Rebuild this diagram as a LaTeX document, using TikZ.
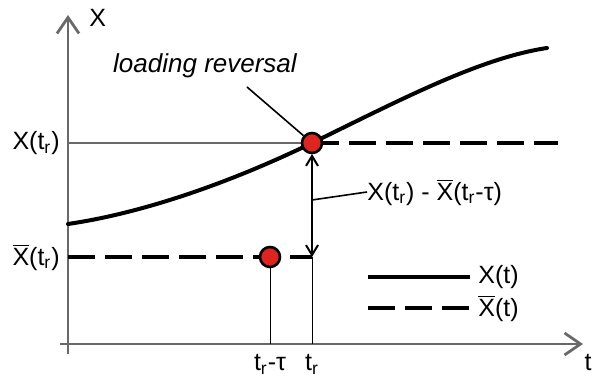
\documentclass[tikz,border=0pt]{standalone}
\usepackage{fontspec}
\setmainfont{Liberation Sans}
\usetikzlibrary{arrows.meta}
\definecolor{axisgray}{RGB}{105,105,105}
\definecolor{dotred}{RGB}{221,36,30}
\newcommand{\tr}{t\textsubscript{r}}
\newcommand{\Xbar}{$\overline{\mbox{X}}$}

\begin{document}
\begin{tikzpicture}[x=0.5pt, y=0.5pt, font=\fontsize{12.5}{14}\selectfont,
    axis/.style={axisgray, line width=1.4pt, -{Straight Barb[length=8pt, width=11pt, line width=1.4pt]}},
    histline/.style={line width=2pt, dash pattern=on 13.5pt off 5pt},
    curveline/.style={line width=2pt},
    dot/.style={circle, draw=black, line width=1.3pt, fill=dotred, inner sep=0pt, minimum size=10pt},
    thin/.style={black, line width=0.5pt},
    lbl/.style={inner sep=0pt}]
  \useasboundingbox (0,0) rectangle (593,378);
  % axes
    \coordinate (ybot) at (68,24);
    \coordinate (ytop) at (68,363);
    \coordinate (xleft) at (60,34);
    \coordinate (xright) at (583,34);
    \draw[axis] (ybot) -- (ytop);
    \draw[axis] (xleft) -- (xright);
    \node[lbl, anchor=west] (ylab) at (89,360) {X};
    \node[lbl, anchor=east] (xlab) at (592,15) {t};
  % levels and times
    \coordinate (xr) at (312,235);
    \coordinate (xbr) at (68,121);
    \coordinate (xbtr) at (312,121);
    \coordinate (tr) at (312,34);
    \coordinate (trtau) at (270,34);
    \coordinate (histend) at (558,235);
    \draw[axisgray, line width=0.6pt] (68,235) -- (xr);
    \draw[thin] (xbtr) -- (tr);
    \draw[thin] (270,121) -- (trtau);
    \draw[histline] (xbr) -- (xbtr);
    \draw[histline] (xr) -- (histend);
  % the X(t) curve
    \draw[curveline, line cap=round] (68,154) .. controls (150,166) and (240,200) .. (xr)
        .. controls (400,278) and (480,320) .. (547,330);
  % difference arrow
    \coordinate (arrtop) at (312,224);
    \draw[line width=1pt, {Straight Barb[length=5pt, width=6pt, line width=1pt]}-{Straight Barb[length=5pt, width=6pt, line width=1pt]}] (arrtop) -- (xbtr);
    \coordinate (diffpt) at (312,178);
    \node[lbl, anchor=west] (diff) at (367,186) {X(\tr) - \Xbar(\tr-τ)};
    \draw[line width=0.8pt] (diffpt) -- (diff.west);
  % the two points
    \node[dot] (rev) at (xr) {};
    \node[dot] (past) at (270,121) {};
    \node[lbl, font=\fontsize{13}{15}\selectfont\itshape] (revlab) at (205,312) {loading reversal};
    \coordinate (revfoot) at (247,291);
    \draw[line width=0.8pt] (revfoot) -- (rev);
  % axis labels
    \node[lbl, anchor=east] (xtrlab) at (60,235) {X(\tr)};
    \node[lbl, anchor=east] (xbtrlab) at (60,121) {\Xbar(\tr)};
    \node[lbl, anchor=north] (trtaulab) at (270,24) {\tr-τ};
    \node[lbl, anchor=north] (trlab) at (312,24) {\tr};
  % legend
    \coordinate (solA) at (368,101);
    \coordinate (solB) at (470,101);
    \coordinate (dasA) at (368,70);
    \coordinate (dasB) at (470,70);
    \draw[curveline] (solA) -- (solB);
    \draw[histline] (dasA) -- (dasB);
    \node[lbl, anchor=west] (leg1) at (478,101) {X(t)};
    \node[lbl, anchor=west] (leg2) at (478,70) {\Xbar(t)};
\end{tikzpicture}
\end{document}
